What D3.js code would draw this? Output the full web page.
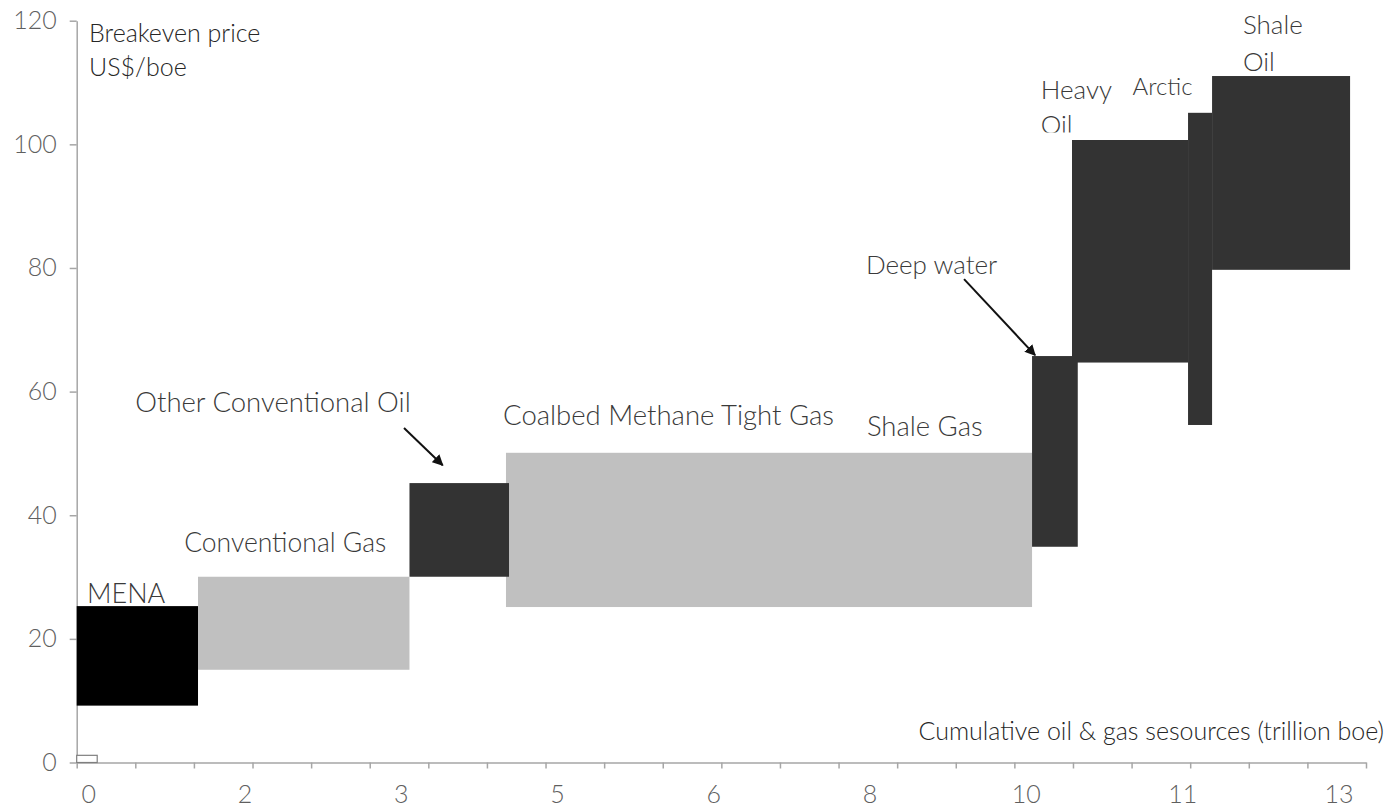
<!DOCTYPE html>
<html>
<head>
<meta charset="utf-8">
<script src="https://cdn.jsdelivr.net/npm/d3@7"></script>
<style>
  html, body { margin: 0; padding: 0; background: #ffffff; }
  svg { display: block; }
  svg text { font-family: Lato, "Open Sans", sans-serif; font-weight: 300; }
</style>
</head>
<body>
<svg id="chart" width="1392" height="812"></svg>
<script>
// ---- data ----
const categories = ["small", "MENA", "Conventional Gas", "Coalbed Methane / Tight Gas / Shale Gas",
  "Other Conventional Oil", "Deep water", "Heavy Oil", "Arctic", "Shale Oil"];
const xStart   = [0,    0,     1.242, 4.395, 3.407, 9.781, 10.19,  11.378, 11.624];
const xEnd     = [0.21, 1.242, 3.407, 9.781, 4.426, 10.249, 11.378, 11.624, 13.037];
const priceLow = [0,    9.2,   15.0,  25.15, 30.05, 34.9,  64.7,   54.6,   79.7];
const priceHigh= [1.16, 25.3,  30.05, 50.1,  45.2,  65.75, 100.7,  105.1,  111.05];
const fillKind = ["outline", "black", "grey", "grey", "dark", "dark", "dark", "dark", "dark"];

const yTickValues = [0, 20, 40, 60, 80, 100, 120];
const xTickValues = [0, 0.6, 1.2, 1.8, 2.4, 3.0, 3.6, 4.2, 4.8, 5.4, 6.0, 6.6, 7.2, 7.8, 8.4, 9.0, 9.6, 10.2, 10.8, 11.4, 12.0, 12.6, 13.2];
const xLabelValues = [0, 1.6, 3.2, 4.8, 6.4, 8.0, 9.6, 11.2, 12.8];

const labelText = ["MENA", "Conventional Gas", "Other Conventional Oil", "Coalbed Methane Tight Gas",
  "Shale Gas", "Deep water", "Heavy", "Oil", "Arctic", "Shale", "Oil"];
const labelX = [0.106, 1.10, 0.60, 4.365, 8.09, 8.08, 9.87, 9.87, 10.81, 11.94, 11.94];
const labelY = [27.4, 35.5, 58.3, 56.2, 54.4, 80.5, 108.8, 103.1, 109.3, 119.3, 113.4];
const labelSize = [27, 26.5, 27.5, 27.5, 27.5, 26, 26, 26, 24, 26, 26];

const arrowX1 = [3.351, 9.085];
const arrowY1 = [54.1, 78.2];
const arrowX2 = [3.747, 9.812];
const arrowY2 = [48.1, 65.9];

const yTitle = ["Breakeven price", "US$/boe"];
const yTitleX = 0.126;
const yTitleY = [118.0, 112.5];
const xTitle = "Cumulative oil & gas sesources (trillion boe)";
const xTitleX = 13.385;
const xTitleY = 4.98;

// ---- layout ----
const svg = d3.select("#chart");
const x = d3.scaleLinear().domain([0, 13.2]).range([76.7, 1366]);
const y = d3.scaleLinear().domain([0, 120]).range([762.5, 20.7]);
const colors = { outline: "#ffffff", black: "#000000", grey: "#c0c0c0", dark: "#333333" };

const rects = categories.map((c, i) => ({ c, x0: xStart[i], x1: xEnd[i], y0: priceLow[i], y1: priceHigh[i], k: fillKind[i] }));

// axes
const yAxis = d3.axisLeft(y).tickValues(yTickValues).tickSize(7).tickPadding(13).tickSizeOuter(0);
const gy = svg.append("g").attr("transform", `translate(${x(0)},0)`).call(yAxis)
  .attr("font-family", null).attr("font-size", null);
gy.select(".domain").attr("stroke", "#a6a6a6").attr("stroke-width", 1.5);
gy.selectAll(".tick line").attr("stroke", "#a6a6a6").attr("stroke-width", 1.5);
gy.selectAll(".tick text").attr("fill", "#5f5f5f").style("font-size", "25px");

const xAxis = d3.axisBottom(x).tickValues(xTickValues).tickSize(6).tickFormat("").tickSizeOuter(0);
const gx = svg.append("g").attr("transform", `translate(0,${y(0)})`).call(xAxis);
gx.select(".domain").attr("stroke", "#a6a6a6").attr("stroke-width", 1.5);
gx.selectAll(".tick line").attr("stroke", "#a6a6a6").attr("stroke-width", 1.5);

const xLab = d3.axisBottom(x).tickValues(xLabelValues).tickSize(0).tickPadding(23).tickFormat(d3.format(".0f"));
const gxl = svg.append("g").attr("transform", `translate(11.5,${y(0)})`).call(xLab)
  .attr("font-family", null).attr("font-size", null);
gxl.select(".domain").remove();
gxl.selectAll(".tick text").attr("fill", "#5f5f5f").style("font-size", "25px");

// rectangles
svg.append("g").selectAll("rect").data(rects).join("rect")
  .attr("x", d => x(d.x0))
  .attr("width", d => x(d.x1) - x(d.x0))
  .attr("y", d => y(d.y1))
  .attr("height", d => y(d.y0) - y(d.y1))
  .attr("fill", d => colors[d.k])
  .attr("stroke", d => d.k === "outline" ? "#7f7f7f" : "none")
  .attr("stroke-width", d => d.k === "outline" ? 1.2 : 0);

// labels
const defs = svg.append("defs");
defs.append("clipPath").attr("id", "clipOil").append("rect")
  .attr("x", 0).attr("y", 0).attr("width", 1392).attr("height", y(101.9));
const labels = labelText.map((t, i) => ({ t, x: labelX[i], y: labelY[i], s: labelSize[i], i }));
svg.append("g").selectAll("text").data(labels).join("text")
  .attr("x", d => x(d.x))
  .attr("y", d => y(d.y))
  .attr("dy", "0.35em")
  .attr("clip-path", d => d.i === 7 ? "url(#clipOil)" : null)
  .attr("fill", "#3a3a3a")
  .style("font-size", d => d.s + "px")
  .text(d => d.t);

// arrows
const marker = defs.append("marker").attr("id", "arrowHead")
  .attr("viewBox", "0 0 10 10").attr("refX", 9).attr("refY", 5)
  .attr("markerWidth", 5.5).attr("markerHeight", 5.5).attr("orient", "auto")
  .attr("markerUnits", "strokeWidth");
marker.append("path").attr("d", "M0,0L10,5L0,10z").attr("fill", "#111");
const arrows = arrowX1.map((v, i) => ({ x1: v, y1: arrowY1[i], x2: arrowX2[i], y2: arrowY2[i] }));
svg.append("g").selectAll("line").data(arrows).join("line")
  .attr("x1", d => x(d.x1)).attr("y1", d => y(d.y1))
  .attr("x2", d => x(d.x2)).attr("y2", d => y(d.y2))
  .attr("stroke", "#111").attr("stroke-width", 2)
  .attr("marker-end", "url(#arrowHead)");

// axis titles
svg.append("g").selectAll("text").data(yTitle).join("text")
  .attr("x", x(yTitleX))
  .attr("y", (d, i) => y(yTitleY[i]))
  .attr("dy", "0.35em")
  .attr("fill", "#262626")
  .style("font-size", "25px")
  .text(d => d);

svg.append("text")
  .attr("x", x(xTitleX))
  .attr("y", y(xTitleY))
  .attr("dy", "0.35em")
  .attr("text-anchor", "end")
  .attr("fill", "#262626")
  .style("font-size", "25px")
  .text(xTitle);
</script>
</body>
</html>
